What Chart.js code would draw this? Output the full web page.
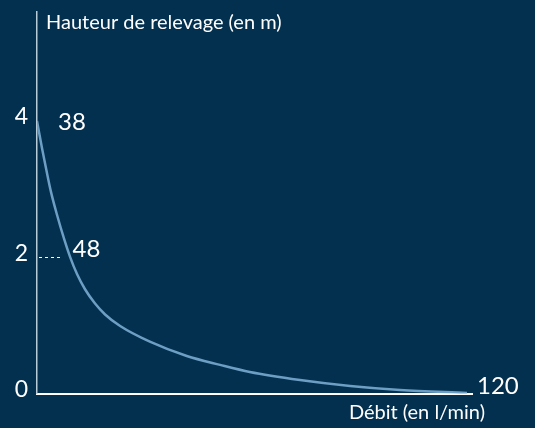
<!DOCTYPE html>
<html>
<head>
<meta charset="utf-8">
<script src="https://cdn.jsdelivr.net/npm/chart.js@4/dist/chart.umd.min.js"></script>
<style>
  html, body { margin: 0; padding: 0; background: #03304f; }
  #wrap { width: 535px; height: 428px; position: relative; }
</style>
</head>
<body>
<div id="wrap"><canvas id="c" width="535" height="428"></canvas></div>
<script>
// Data
const flowValues   = [0, 1.4, 2.5, 3.9, 5.6, 7.5, 9.2, 11.2, 13.4, 16.2, 19.0, 23.2, 31.5, 41.8, 51.1, 59.4, 73.4, 87.4, 101.3, 120];
const heightValues = [4, 3.60, 3.31, 2.96, 2.62, 2.28, 2.01, 1.75, 1.53, 1.32, 1.16, 0.99, 0.76, 0.55, 0.42, 0.316, 0.198, 0.11, 0.051, 0.007];
const yTickValues  = [0, 2, 4];
const yAxisTitle   = "Hauteur de relevage (en m)";
const xAxisTitle   = "Débit (en l/min)";
const pointLabels  = [ { x: 0, y: 4, text: "38" }, { x: 8.8, y: 2, text: "48" } ];
const endLabel     = { x: 120, y: 0, text: "120" };
const guideLine    = { xFrom: 0, xTo: 7, y: 2 };

const FONT = "Lato, 'Open Sans', sans-serif";

const annotations = {
  id: 'annotations',
  beforeDraw(chart) {
    const ctx = chart.ctx;
    ctx.save();
    ctx.fillStyle = '#03304f';
    ctx.fillRect(0, 0, chart.width, chart.height);
    ctx.restore();
  },
  afterDraw(chart) {
    const ctx = chart.ctx;
    const xs = chart.scales.x, ys = chart.scales.y;
    const area = chart.chartArea;
    ctx.save();
    // dotted guide
    ctx.strokeStyle = '#ffffff';
    ctx.lineWidth = 1;
    ctx.setLineDash([3, 3]);
    ctx.beginPath();
    const gy = Math.round(ys.getPixelForValue(guideLine.y)) + 0.5;
    ctx.moveTo(xs.getPixelForValue(guideLine.xFrom) + 2, gy);
    ctx.lineTo(xs.getPixelForValue(guideLine.xTo), gy);
    ctx.stroke();
    ctx.setLineDash([]);

    ctx.fillStyle = '#ffffff';
    // axis titles
    ctx.font = '20px ' + FONT;
    ctx.textBaseline = 'alphabetic';
    ctx.textAlign = 'left';
    ctx.fillText(yAxisTitle, area.left + 9, area.top + 16.5);
    ctx.textAlign = 'right';
    ctx.fillText(xAxisTitle, area.right + 13, area.bottom + 25);

    // point labels
    ctx.font = '24px ' + FONT;
    ctx.textBaseline = 'middle';
    ctx.textAlign = 'left';
    pointLabels.forEach((p, i) => {
      const px = xs.getPixelForValue(p.x);
      const py = ys.getPixelForValue(p.y);
      if (i === 0) ctx.fillText(p.text, px + 21, py + 1);
      else ctx.fillText(p.text, px + 4, py - 8);
    });
    ctx.fillText(endLabel.text, area.right + 5, ys.getPixelForValue(endLabel.y) - 7);
    ctx.restore();
  }
};

new Chart(document.getElementById('c'), {
  type: 'line',
  data: {
    labels: flowValues,
    datasets: [{
      data: flowValues.map((x, i) => ({ x: x, y: heightValues[i] })),
      borderColor: '#6d9ec4',
      borderWidth: 2.5,
      pointRadius: 0,
      fill: false,
      cubicInterpolationMode: 'monotone'
    }]
  },
  options: {
    responsive: false,
    animation: false,
    layout: { padding: { left: 0, top: 12, right: 63, bottom: 0 } },
    plugins: { legend: { display: false }, tooltip: { enabled: false } },
    scales: {
      x: {
        type: 'linear',
        min: 0, max: 121.4,
        grid: { display: false, drawTicks: false },
        border: { display: true, color: '#ffffff', width: 2 },
        ticks: { display: false },
        afterFit(s) { s.height = 34.5; s.paddingLeft = 0; s.paddingRight = 0; }
      },
      y: {
        type: 'linear',
        min: 0, max: 5.6,
        grid: { display: false, drawTicks: false },
        border: { display: true, color: '#b9cad8', width: 1.5 },
        afterBuildTicks(s) { s.ticks = yTickValues.map(v => ({ value: v })); },
        ticks: {
          color: '#ffffff',
          font: { family: FONT, size: 23 },
          padding: 9,
          labelOffset: -4,
          callback: v => String(v)
        },
        afterFit(s) { s.width = 37; s.paddingTop = 0; s.paddingBottom = 0; }
      }
    }
  },
  plugins: [annotations]
});
</script>
</body>
</html>
